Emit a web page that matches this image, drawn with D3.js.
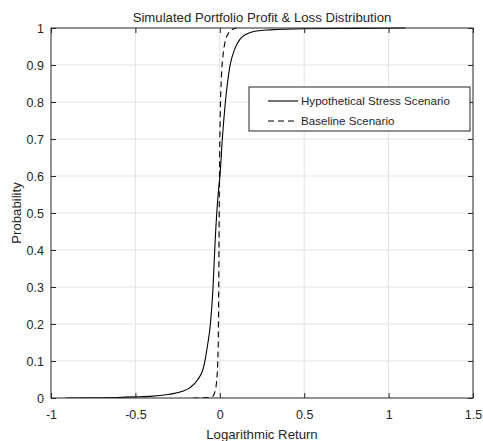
<!DOCTYPE html>
<html>
<head>
<meta charset="utf-8">
<script src="https://cdn.jsdelivr.net/npm/d3@7"></script>
<style>
  body { margin: 0; background: #fff; }
  text { font-family: "Liberation Sans", Arial, sans-serif; fill: #262626; }
</style>
</head>
<body>
<div id="chart"></div>
<script>
// tick labels
const xTicks = [-1, -0.5, 0, 0.5, 1, 1.5];
const yTicks = [0, 0.1, 0.2, 0.3, 0.4, 0.5, 0.6, 0.7, 0.8, 0.9, 1];

const stressX = [-0.915, -0.7, -0.5, -0.4, -0.3, -0.22, -0.177, -0.13, -0.098, -0.07, -0.058, -0.04, -0.028, -0.01, 0.001, 0.015, 0.031, 0.045, 0.06, 0.09, 0.12, 0.16, 0.22, 0.3, 0.5, 0.8, 1.1];
const stressP = [0, 0.0005, 0.003, 0.005, 0.01, 0.018, 0.028, 0.05, 0.08, 0.15, 0.19, 0.3, 0.42, 0.55, 0.6, 0.7, 0.79, 0.85, 0.897, 0.945, 0.97, 0.984, 0.992, 0.995, 0.998, 0.999, 1];

// baseline scenario
const baseX = [-0.16, -0.06, -0.04, -0.03, -0.02, -0.012, -0.008, -0.005, -0.002, 0.002, 0.01, 0.02, 0.03, 0.05, 0.07, 0.1];
const baseP = [0, 0.001, 0.005, 0.015, 0.04, 0.1, 0.2, 0.4, 0.6, 0.75, 0.87, 0.93, 0.96, 0.985, 0.995, 1];

const seriesNames = ["Hypothetical Stress Scenario", "Baseline Scenario"];

const W = 483, H = 441;
const margin = {top: 28, right: 10, bottom: 43, left: 51};
const width = W - margin.left - margin.right,
      height = H - margin.top - margin.bottom;

const svg = d3.select("#chart").append("svg")
    .attr("width", W).attr("height", H);

const g = svg.append("g")
    .attr("transform", `translate(${margin.left},${margin.top})`);

const x = d3.scaleLinear().domain([-1, 1.5]).range([0, width]);
const y = d3.scaleLinear().domain([0, 1]).range([height, 0]);

// grid
g.append("g").selectAll("line").data(xTicks.slice(1, -1)).join("line")
  .attr("x1", d => x(d)).attr("x2", d => x(d))
  .attr("y1", 0).attr("y2", height)
  .attr("stroke", "#e3e3e3");
g.append("g").selectAll("line").data(yTicks.slice(1, -1)).join("line")
  .attr("y1", d => y(d)).attr("y2", d => y(d))
  .attr("x1", 0).attr("x2", width)
  .attr("stroke", "#e3e3e3");

// curves
const clip = svg.append("clipPath").attr("id", "clip")
  .append("rect").attr("width", width).attr("height", height + 1).attr("y", -1);

const line = d3.line()
  .x(d => x(d[0])).y(d => y(d[1]))
  .curve(d3.curveMonotoneX);

const stress = stressX.map((v, i) => [v, stressP[i]]);
const base = baseX.map((v, i) => [v, baseP[i]]);

const plot = g.append("g").attr("clip-path", "url(#clip)");
plot.append("path").datum(stress)
  .attr("d", line).attr("fill", "none")
  .attr("stroke", "#000").attr("stroke-width", 1.1);
plot.append("path").datum(base)
  .attr("d", line).attr("fill", "none")
  .attr("stroke", "#000").attr("stroke-width", 1.1)
  .attr("stroke-dasharray", "6,4");

// axes (matlab style, inward ticks on all sides)
const tl = 5;
const fmt = d => String(d);
g.append("g").attr("transform", `translate(0,${height})`)
  .call(d3.axisBottom(x).tickValues(xTicks).tickSize(-tl).tickPadding(12).tickFormat(fmt))
  .call(a => a.select(".domain").remove());
g.append("g").call(d3.axisTop(x).tickValues(xTicks).tickSize(-tl).tickFormat(""))
  .call(a => a.select(".domain").remove());
g.append("g")
  .call(d3.axisLeft(y).tickValues(yTicks).tickSize(-tl).tickPadding(7).tickFormat(fmt))
  .call(a => a.select(".domain").remove());
g.append("g").attr("transform", `translate(${width},0)`)
  .call(d3.axisRight(y).tickValues(yTicks).tickSize(-tl).tickFormat(""))
  .call(a => a.select(".domain").remove());

g.selectAll(".tick line").attr("stroke", "#262626");
g.selectAll(".tick text").style("font-size", "12.5px").attr("fill", "#262626");

g.append("rect").attr("width", width).attr("height", height)
  .attr("fill", "none").attr("stroke", "#262626").attr("stroke-width", 1);

// legend
const lg = svg.append("g").attr("transform", "translate(249,87)");
lg.append("rect").attr("width", 221).attr("height", 44)
  .attr("fill", "#fff").attr("stroke", "#262626");
seriesNames.forEach((name, i) => {
  const ly = 14 + i * 20;
  lg.append("line").attr("x1", 19).attr("x2", 49).attr("y1", ly).attr("y2", ly)
    .attr("stroke", "#000").attr("stroke-width", 1.1)
    .attr("stroke-dasharray", i === 1 ? "6,4" : null);
  lg.append("text").attr("x", 52).attr("y", ly + 4)
    .style("font-size", "11.6px").text(name);
});

// titles
svg.append("text").attr("x", margin.left + width / 2).attr("y", 22)
  .attr("text-anchor", "middle").style("font-size", "13.2px")
  .text("Simulated Portfolio Profit & Loss Distribution");
svg.append("text").attr("x", margin.left + width / 2).attr("y", 439)
  .attr("text-anchor", "middle").style("font-size", "13.2px")
  .text("Logarithmic Return");
svg.append("text")
  .attr("transform", `translate(21,${margin.top + height / 2}) rotate(-90)`)
  .attr("text-anchor", "middle").style("font-size", "13.2px")
  .text("Probability");
</script>
</body>
</html>
